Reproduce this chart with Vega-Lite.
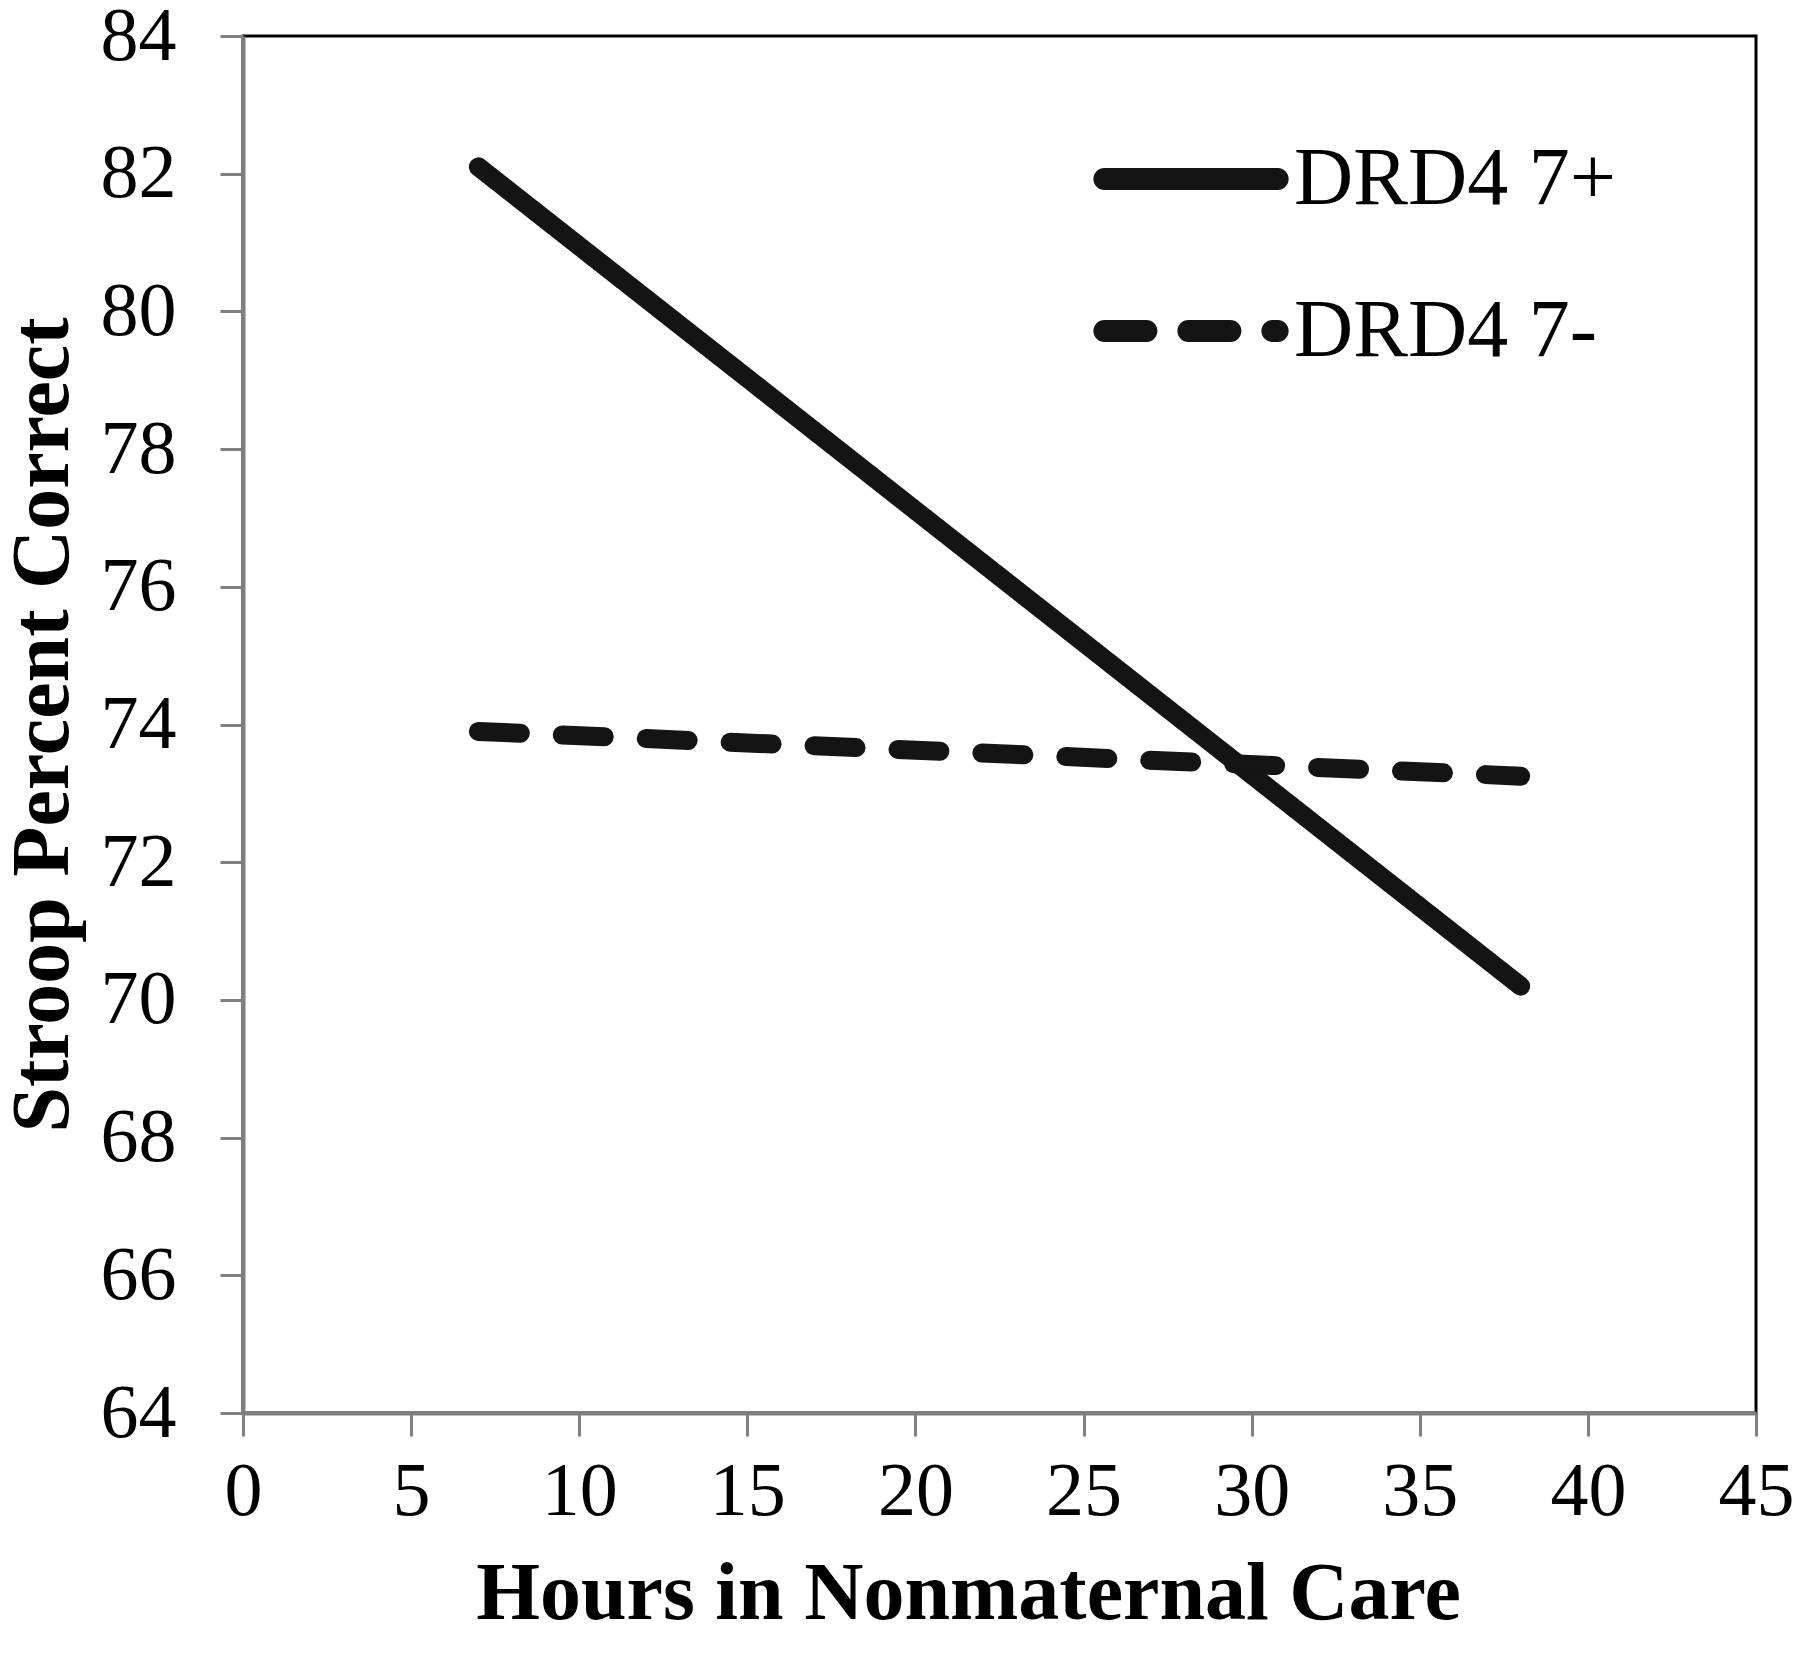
{
  "$schema": "https://vega.github.io/schema/vega-lite/v6.json",
  "autosize": "none",
  "width": 1513,
  "height": 1377,
  "padding": {"left": 243, "top": 36, "right": 44, "bottom": 240},
  "background": "white",
  "config": {
    "view": {"stroke": "#000000", "strokeWidth": 3},
    "font": "Liberation Serif",
    "axis": {
      "grid": false,
      "domainColor": "#7f7f7f",
      "domainWidth": 4,
      "tickColor": "#7f7f7f",
      "tickWidth": 3,
      "tickSize": 23,
      "labelFont": "Liberation Serif",
      "labelFontSize": 76,
      "labelColor": "#000000",
      "titleFont": "Liberation Serif",
      "titleFontSize": 82,
      "titleFontWeight": "bold",
      "titleColor": "#000000"
    }
  },
  "data": {
    "values": [
      {"hours": 7, "pct": 82.1, "group": "DRD4 7+"},
      {"hours": 38, "pct": 70.2, "group": "DRD4 7+"},
      {"hours": 7, "pct": 73.9, "group": "DRD4 7-"},
      {"hours": 38, "pct": 73.25, "group": "DRD4 7-"}
    ]
  },
  "mark": {"type": "line", "strokeWidth": 19, "strokeCap": "round", "color": "#141414"},
  "encoding": {
    "x": {
      "field": "hours",
      "type": "quantitative",
      "scale": {"domain": [0, 45], "nice": false, "zero": false},
      "axis": {"values": [0, 5, 10, 15, 20, 25, 30, 35, 40, 45], "title": "Hours in Nonmaternal Care", "labelPadding": 18, "titlePadding": 24, "titleX": 725, "labelFlush": false}
    },
    "y": {
      "field": "pct",
      "type": "quantitative",
      "scale": {"domain": [64, 84], "nice": false, "zero": false},
      "axis": {"values": [64, 66, 68, 70, 72, 74, 76, 78, 80, 82, 84], "title": "Stroop Percent Correct", "labelPadding": 44, "titlePadding": 16, "labelFlush": false}
    },
    "strokeDash": {
      "field": "group",
      "type": "nominal",
      "scale": {"domain": ["DRD4 7+", "DRD4 7-"], "range": [[1, 0], [42, 42]]},
      "legend": {
        "title": null,
        "orient": "none",
        "legendX": 850,
        "legendY": 45,
        "padding": 0,
        "symbolType": "stroke",
        "symbolSize": 30000,
        "symbolStrokeWidth": 22,
        "symbolStrokeColor": "#141414",
        "labelFont": "Liberation Serif",
        "labelFontSize": 82,
        "labelColor": "#000000",
        "labelOffset": 5,
        "rowPadding": 10,
        "labelLimit": 0,
        "encode": {"symbols": {"update": {"strokeCap": {"value": "round"}}}}
      }
    }
  }
}
